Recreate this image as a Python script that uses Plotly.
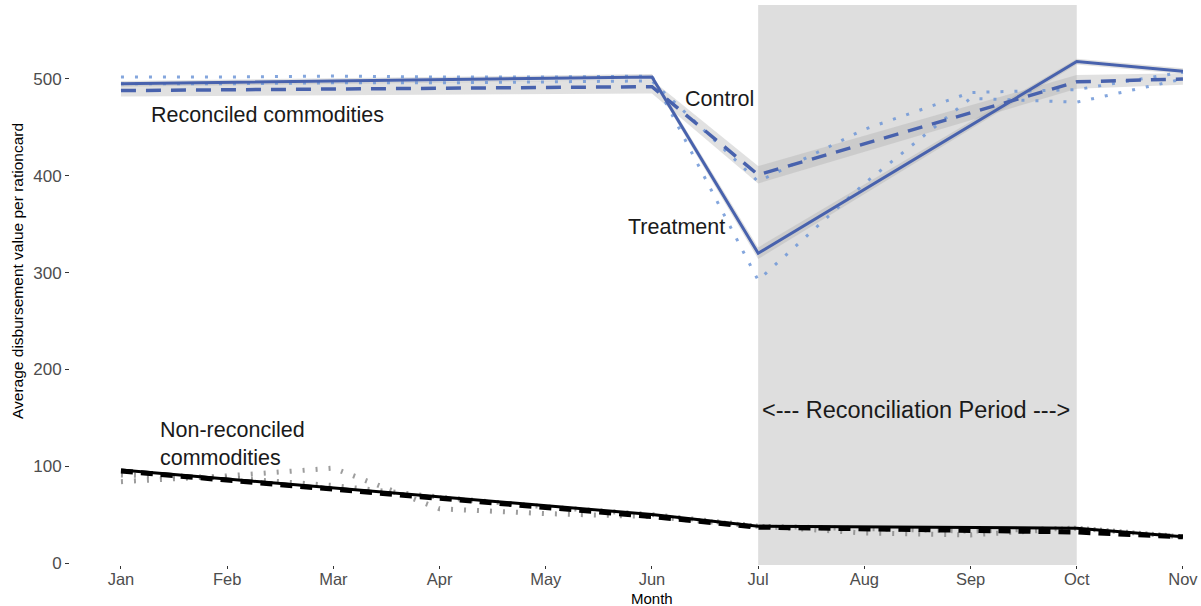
import plotly.graph_objects as go

# Month axis
months = ["Jan", "Feb", "Mar", "Apr", "May", "Jun", "Jul", "Aug", "Sep", "Oct", "Nov"]
month_idx = list(range(len(months)))

# Fitted (piecewise) trends: break points at Jan, Jun, Jul, Oct, Nov
fit_months = ["Jan", "Jun", "Jul", "Oct", "Nov"]
fit_idx = [months.index(m) for m in fit_months]

# Reconciled commodities - fitted values
rec_treat_fit = [495, 502, 320, 518, 508]
rec_ctrl_fit = [488, 492, 401, 497, 500]
rec_treat_lo = [492, 499, 314, 515, 505]
rec_treat_hi = [498, 505, 326, 521, 511]
rec_ctrl_lo = [482, 485, 392, 490, 494]
rec_ctrl_hi = [494, 499, 410, 504, 506]

# Reconciled commodities - monthly means
rec_treat_raw = [502, 502, 503, 502, 502, 503, 292, 392, 480, 476, 500]
rec_ctrl_raw = [495, 495, 496, 496, 497, 498, 394, 448, 486, 489, 507]

# Non-reconciled commodities - fitted values
non_treat_fit = [96, 50, 38, 36, 27]
non_ctrl_fit = [95, 48, 37, 32, 27]

# Non-reconciled commodities - monthly means
non_treat_raw = [84, 90, 98, 56, 51, 48, 38, 31, 29, 36, 27]
non_ctrl_raw = [91, 88, 80, 68, 58, 50, 38, 35, 33, 36, 27]

# Reconciliation window
period_start, period_end = "Jul", "Oct"

BLUE = "#4862ad"
LIGHT_BLUE = "rgba(110,150,215,0.85)"
GREY_DOT = "rgba(140,140,140,0.85)"
RIBBON = "rgba(170,170,170,0.35)"
FONT = "Liberation Sans, Arial, sans-serif"

fig = go.Figure()


def ribbon(lo, hi):
    xs = fit_idx + fit_idx[::-1]
    ys = hi + lo[::-1]
    fig.add_trace(go.Scatter(x=xs, y=ys, fill="toself", fillcolor=RIBBON,
                             line=dict(width=0), mode="lines",
                             hoverinfo="skip", showlegend=False))


ribbon(rec_ctrl_lo, rec_ctrl_hi)
ribbon(rec_treat_lo, rec_treat_hi)

# Non-reconciled monthly means (grey dotted)
for ys in (non_treat_raw, non_ctrl_raw):
    fig.add_trace(go.Scatter(x=month_idx, y=ys, mode="lines",
                             line=dict(color=GREY_DOT, width=5, dash="2px,11px"),
                             showlegend=False))

# Non-reconciled fitted lines
fig.add_trace(go.Scatter(x=fit_idx, y=non_ctrl_fit, mode="lines",
                         line=dict(color="black", width=5, dash="12px,8px"),
                         showlegend=False))
fig.add_trace(go.Scatter(x=fit_idx, y=non_treat_fit, mode="lines",
                         line=dict(color="black", width=3),
                         showlegend=False))

# Reconciled monthly means (light blue dotted)
for ys in (rec_treat_raw, rec_ctrl_raw):
    fig.add_trace(go.Scatter(x=month_idx, y=ys, mode="lines",
                             line=dict(color=LIGHT_BLUE, width=3, dash="3px,11px"),
                             showlegend=False))

# Reconciled fitted lines
fig.add_trace(go.Scatter(x=fit_idx, y=rec_ctrl_fit, mode="lines",
                         line=dict(color=BLUE, width=3.5, dash="15px,10px"),
                         showlegend=False))
fig.add_trace(go.Scatter(x=fit_idx, y=rec_treat_fit, mode="lines",
                         line=dict(color=BLUE, width=3),
                         showlegend=False))

# Shaded reconciliation period
fig.add_shape(type="rect", xref="x", yref="y domain",
              x0=months.index(period_start), x1=months.index(period_end),
              y0=0, y1=1, fillcolor="#dedede", line=dict(width=0), layer="below")

label_font = dict(family=FONT, size=21.5, color="#1a1a1a")
fig.add_annotation(x=1.375, y=463, text="Reconciled commodities", showarrow=False,
                   font=label_font)
fig.add_annotation(x=5.64, y=479, text="Control", showarrow=False, font=label_font)
fig.add_annotation(x=5.23, y=347, text="Treatment", showarrow=False, font=label_font)
fig.add_annotation(x=0.35, y=123, text="Non-reconciled<br>commodities", showarrow=False,
                   xanchor="left", align="left", font=label_font)
fig.add_annotation(x=7.49, y=158, text="<--- Reconciliation Period --->", showarrow=False,
                   font=dict(family=FONT, size=23.5, color="#1a1a1a"))

# Axis titles
fig.add_annotation(xref="paper", yref="paper", x=0, y=0.525, xshift=-53,
                   xanchor="center", yanchor="middle",
                   text="Average disbursement value per rationcard", textangle=-90,
                   showarrow=False, font=dict(family=FONT, size=15.5, color="black"))
fig.add_annotation(xref="x", yref="paper", x=5.0, y=0, yanchor="middle", yshift=-33,
                   text="Month", showarrow=False,
                   font=dict(family=FONT, size=15, color="black"))

fig.update_layout(
    width=1201, height=606,
    margin=dict(l=70, r=0, t=5, b=41),
    paper_bgcolor="white", plot_bgcolor="white",
    font=dict(family=FONT),
    xaxis=dict(range=[-0.48, 10.17], tickmode="array", tickvals=month_idx,
               ticktext=months, showgrid=False, zeroline=False, showline=False,
               ticks="outside", ticklen=3, tickcolor="#333333",
               ticklabelstandoff=-4,
               tickfont=dict(size=16.5, color="#4d4d4d")),
    yaxis=dict(range=[-2.07, 576.4], tickvals=[0, 100, 200, 300, 400, 500],
               showgrid=False, zeroline=False, showline=False,
               ticks="outside", ticklen=4, tickcolor="#333333",
               tickfont=dict(size=17, color="#4d4d4d")),
)

fig.write_html("out.html")
